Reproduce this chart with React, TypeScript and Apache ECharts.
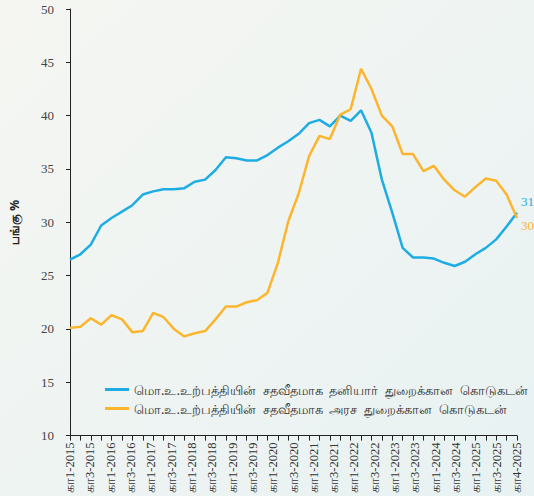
import React, { useEffect, useRef } from "react";
import * as echarts from "echarts";

const quarters: string[] = [];
for (let y = 2015; y <= 2025; y++) {
  for (let q = 1; q <= 4; q++) quarters.push(`கா${q}-${y}`);
}

const tickLabels = [
  "கா1-2015", "கா3-2015", "கா1-2016", "கா3-2016", "கா1-2017", "கா3-2017",
  "கா1-2018", "கா3-2018", "கா1-2019", "கா3-2019", "கா1-2020", "கா3-2020",
  "கா1-2021", "கா3-2021", "கா1-2022", "கா3-2022", "கா1-2023", "கா3-2023",
  "கா1-2024", "கா3-2024", "கா1-2025", "கா3-2025", "கா4-2025",
];

const privateCredit = [
  26.5, 27.0, 27.9, 29.7, 30.4, 31.0, 31.6, 32.6, 32.9, 33.1, 33.1, 33.2,
  33.8, 34.0, 34.9, 36.1, 36.0, 35.8, 35.8, 36.3, 37.0, 37.6, 38.3, 39.3,
  39.6, 39.0, 40.0, 39.5, 40.5, 38.4, 34.0, 30.9, 27.6, 26.7, 26.7, 26.6,
  26.2, 25.9, 26.3, 27.0, 27.6, 28.4, 29.6, 30.9,
];

const govCredit = [
  20.1, 20.2, 21.0, 20.4, 21.3, 20.9, 19.7, 19.8, 21.5, 21.1, 20.0, 19.3,
  19.6, 19.8, 20.9, 22.1, 22.1, 22.5, 22.7, 23.4, 26.2, 30.1, 32.7, 36.2,
  38.1, 37.8, 40.1, 40.6, 44.4, 42.5, 40.0, 39.0, 36.4, 36.4, 34.8, 35.3,
  34.0, 33.0, 32.4, 33.3, 34.1, 33.9, 32.6, 30.4,
];

const seriesNames = [
  "மொ.உ.உற்பத்தியின் சதவீதமாக தனியார் துறைக்கான கொடுகடன்",
  "மொ.உ.உற்பத்தியின் சதவீதமாக அரச துறைக்கான கொடுகடன்",
];

const yAxisName = "பங்கு %";

const BLUE = "#1DADE4";
const ORANGE = "#FDB52E";
const SERIF = "'Liberation Serif', 'DejaVu Serif', serif";
const SANS = "'Noto Sans', 'DejaVu Sans', sans-serif";

export default function App() {
  const ref = useRef<HTMLDivElement>(null);
  useEffect(() => {
    if (!ref.current) return;
    const chart = echarts.init(ref.current, undefined, { renderer: "svg" });
    chart.setOption({
      animation: false,
      backgroundColor: new echarts.graphic.LinearGradient(0, 0, 1, 1, [
        { offset: 0, color: "#f5f6f2" },
        { offset: 1, color: "#e8f2f2" },
      ]),
      grid: { left: 69, right: 17, top: 9, bottom: 60 },
      legend: {
        orient: "vertical",
        left: 100,
        top: 378,
        itemGap: 6,
        itemWidth: 24,
        itemHeight: 3,
        icon: "rect",
        formatter: (name: string) => name.split(" ").join("  "),
        textStyle: { fontFamily: SANS, fontSize: 13, color: "#333" },
        data: seriesNames,
      },
      xAxis: [
        {
          type: "category",
          data: quarters,
          boundaryGap: false,
          axisLine: { lineStyle: { color: "#222", width: 1 } },
          axisTick: { interval: 0, length: 5, lineStyle: { color: "#222" } },
          axisLabel: { show: false },
        },
        {
          type: "category",
          data: tickLabels,
          boundaryGap: false,
          position: "bottom",
          axisLine: { show: false },
          axisTick: { show: false },
          axisLabel: {
            interval: 0,
            rotate: 90,
            margin: 7,
            fontFamily: SERIF,
            fontSize: 12.5,
            color: "#333",
          },
        },
      ],
      yAxis: {
        type: "value",
        min: 10,
        max: 50,
        interval: 5,
        name: yAxisName,
        nameLocation: "middle",
        nameGap: 50,
        nameRotate: 90,
        nameTextStyle: { fontFamily: SANS, fontSize: 12, fontWeight: "bold", color: "#222" },
        axisLine: { show: true, lineStyle: { color: "#222", width: 1 } },
        axisTick: { show: true, length: 4, lineStyle: { color: "#222" } },
        splitLine: { show: false },
        axisLabel: { fontFamily: SERIF, fontSize: 13, color: "#444", margin: 16 },
      },
      series: [
        {
          name: seriesNames[0],
          type: "line",
          data: privateCredit,
          symbol: "none",
          lineStyle: { color: BLUE, width: 2.5 },
          itemStyle: { color: BLUE },
          endLabel: {
            show: true,
            formatter: (p: any) => String(Math.round(p.value)),
            color: BLUE,
            fontFamily: SERIF,
            fontSize: 13,
            offset: [0, -11],
            distance: 4,
          },
        },
        {
          name: seriesNames[1],
          type: "line",
          data: govCredit,
          symbol: "none",
          lineStyle: { color: ORANGE, width: 2.5 },
          itemStyle: { color: ORANGE },
          endLabel: {
            show: true,
            formatter: (p: any) => String(Math.round(p.value)),
            color: ORANGE,
            fontFamily: SERIF,
            fontSize: 13,
            offset: [0, 7],
            distance: 4,
          },
        },
      ],
    });
    return () => chart.dispose();
  }, []);
  return (
    <div
      ref={ref}
      style={{ position: "fixed", left: 0, top: 0, width: 534, height: 496 }}
    />
  );
}
